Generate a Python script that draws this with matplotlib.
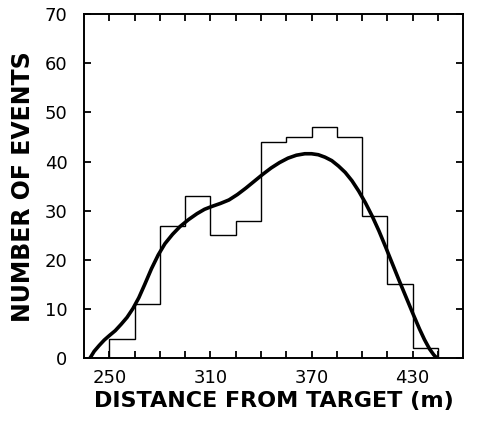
import matplotlib
matplotlib.use("Agg")
import matplotlib.pyplot as plt

# histogram: bin edges (m) and counts
bin_edges = [250, 265, 280, 295, 310, 325, 340, 355, 370, 385, 400, 415, 430, 445]
counts = [4, 11, 27, 33, 25, 28, 44, 45, 47, 45, 29, 15, 2]

# smooth fitted curve
curve_x = [238.5, 241.0, 244.0, 247.0, 250.0, 253.5, 257.0, 260.5, 264.0, 267.5,
           271.0, 275.0, 279.0, 283.0, 287.5, 292.0, 297.0, 302.0, 306.5, 311.0,
           316.0, 321.0, 326.0, 331.0, 336.0, 341.0, 346.0, 351.0, 356.0, 361.0,
           366.0, 370.0, 374.0, 378.0, 382.0, 386.0, 390.0, 394.0, 398.0, 402.0,
           406.0, 410.0, 414.0, 418.0, 422.0, 426.0, 430.0, 434.0, 437.0, 440.0,
           442.5, 444.5]
curve_y = [0.0, 1.4, 2.6, 3.7, 4.6, 5.6, 6.9, 8.3, 10.1, 12.3,
           15.0, 18.2, 21.0, 23.3, 25.2, 26.8, 28.2, 29.4, 30.3, 30.9,
           31.5, 32.2, 33.3, 34.6, 36.0, 37.4, 38.7, 39.8, 40.7, 41.3,
           41.6, 41.6, 41.4, 40.9, 40.2, 39.1, 37.8, 36.1, 34.0, 31.6,
           28.9, 25.9, 22.6, 19.2, 15.8, 12.5, 9.2, 6.0, 3.8, 1.9,
           0.7, 0.0]

x_labels = [250, 310, 370, 430]
x_minor = list(range(250, 446, 15))
y_ticks = list(range(0, 71, 10))

fig = plt.figure(figsize=(4.83, 4.29), dpi=100)
ax = fig.add_axes([0.174, 0.165, 0.785, 0.802])

ax.stairs(counts, bin_edges, color="black", linewidth=1.0)
ax.plot(curve_x, curve_y, color="black", linewidth=2.6, solid_capstyle="round")

ax.set_xlim(235, 460)
ax.set_ylim(0, 70)
ax.set_xticks(x_labels)
ax.set_xticks(x_minor, minor=True)
ax.set_yticks(y_ticks)

for s in ax.spines.values():
    s.set_linewidth(1.4)

ax.tick_params(which="both", direction="in", top=True, right=True,
               length=5, width=1.3, labelsize=13)
ax.tick_params(axis="y", pad=12)
ax.tick_params(axis="x", pad=8)

ax.set_xlabel("DISTANCE FROM TARGET (m)", fontsize=16, fontweight="bold", labelpad=3)
ax.set_ylabel("NUMBER OF EVENTS", fontsize=17, fontweight="bold", labelpad=7)

fig.savefig("out.png", dpi=100)
